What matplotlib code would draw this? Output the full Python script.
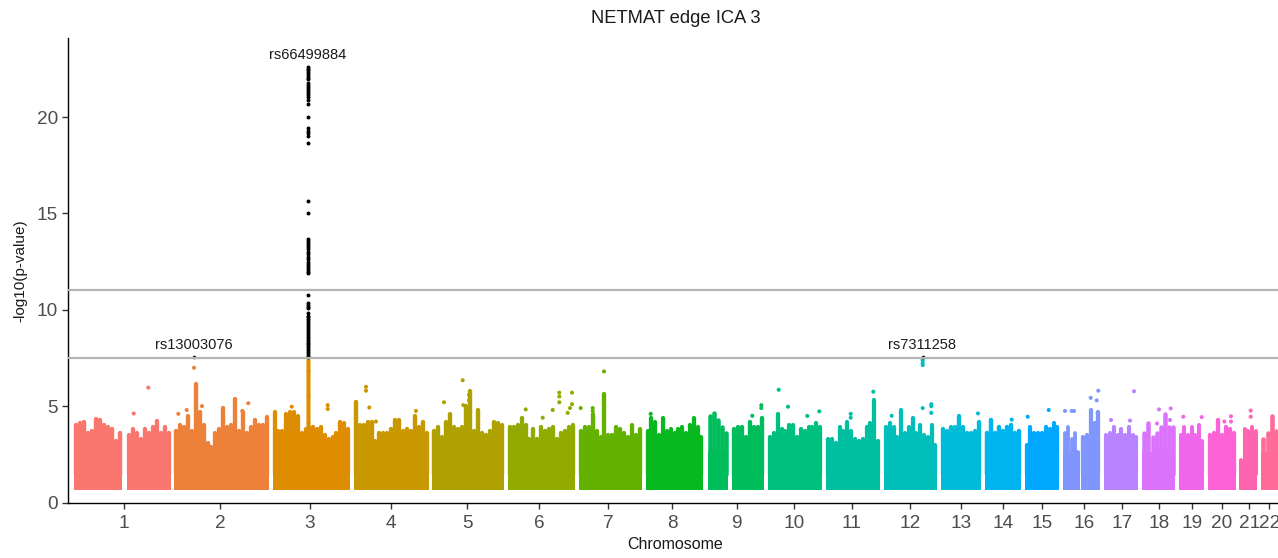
import numpy as np
import matplotlib
matplotlib.use("Agg")
import matplotlib.pyplot as plt

plt.rcParams['font.family'] = ['Liberation Sans', 'DejaVu Sans']

W, H = 1278, 558
AX_L, AX_R, AX_T, AX_B = 68, 1278, 38, 502.5
YMAX = 24.1

chrom_names = [str(i) for i in range(1, 23)]
chrom_ticks = [124, 220, 310, 391.3, 467.3, 539.3, 608, 672.3, 736.7, 794, 851.7, 910,
               961, 1002.7, 1042.3, 1084, 1121.7, 1159, 1191.7, 1222, 1249.3, 1269.3]
chrom_colors = ['#F8766D', '#EE8139', '#DE8C00', '#C99800', '#AFA100', '#90AA00', '#63B200',
                '#07B81E', '#00BD5C', '#00C080', '#00BFA0', '#00BFBA', '#00BCD8', '#00B4EF',
                '#00A9FF', '#7F96FF', '#B983FF', '#DB72FB', '#F066EA', '#FC61D5', '#FF64B0', '#FF6A98']

BASE = 0.66

seg_chrom = [1, 1, 2, 3, 4, 5, 6, 7, 8, 9, 9, 10, 11, 12, 13, 14, 15, 16, 16, 17, 18, 19, 20, 21, 22]
seg_start = [74, 127.3, 174, 272.7, 353.7, 432.3, 507.7, 579, 645.7, 707.7, 732.3, 768, 826, 884,
             941.3, 984.7, 1024.7, 1063, 1081, 1104.3, 1142.3, 1178.7, 1208.3, 1239.3, 1261.3]
seg_end = [122.3, 170.7, 268.7, 350, 429, 503.7, 575, 641.7, 703.3, 728.3, 764, 822, 880, 937.3,
           980.7, 1021.3, 1059.3, 1080, 1100.3, 1138.3, 1175, 1204.3, 1235.7, 1257.3, 1278]

chr1a = [4.0, 4.1, 4.2, 3.6, 3.7, 4.35, 4.3, 4.0, 3.9, 3.8, 3.2, 3.6]
chr1b = [3.5, 3.8, 3.6, 3.3, 3.8, 3.6, 3.9, 4.25, 3.6, 3.9, 3.6]
chr2 = [3.7, 4.0, 3.9, 4.5, 3.7, 6.15, 4.7, 4.0, 3.1, 2.9, 3.6, 3.8, 4.9, 3.9, 4.0, 5.35,
        3.7, 4.7, 3.6, 3.9, 4.3, 4.0, 4.0, 4.45]
chr3 = [4.7, 3.7, 3.7, 4.6, 4.7, 4.7, 4.5, 3.6, 3.8, 3.9, 3.9, 3.8, 3.9, 3.5, 3.3, 3.4, 3.6, 4.2, 4.1, 3.8]
chr4 = [5.2, 4.0, 4.0, 4.2, 4.2, 3.2, 3.6, 3.6, 3.6, 3.8, 4.3, 4.3, 3.7, 3.8, 3.7, 4.5, 3.9, 4.2, 3.6]
chr5 = [3.7, 3.9, 3.4, 4.2, 4.6, 3.9, 3.8, 3.9, 5.0, 5.8, 3.7, 4.8, 3.6, 3.5, 3.7, 4.2, 4.1, 4.0]
chr6 = [3.9, 3.9, 4.0, 4.4, 4.0, 3.3, 3.8, 3.3, 3.9, 3.7, 3.8, 3.9, 3.3, 3.6, 3.7, 3.9, 4.0]
chr7 = [3.7, 3.9, 3.9, 4.6, 3.7, 3.4, 5.65, 3.5, 3.5, 3.9, 3.8, 3.6, 3.4, 4.0, 3.5, 3.8]
chr8 = [3.7, 4.4, 4.2, 3.5, 4.4, 3.7, 3.8, 3.6, 3.8, 3.9, 3.6, 4.0, 4.4, 3.9, 3.4]
chr9a = [4.5, 4.65, 4.3, 3.9, 3.6]
chr9b = [3.8, 3.9, 3.9, 3.4, 4.2, 3.9, 3.9, 4.4]
chr10 = [3.4, 3.6, 4.6, 3.8, 3.7, 4.0, 4.0, 3.4, 3.8, 3.7, 3.9, 3.9, 4.1, 3.9]
chr11 = [3.3, 3.3, 3.1, 3.9, 3.7, 4.2, 3.7, 3.3, 3.2, 3.3, 3.9, 4.1, 5.3, 3.2]
chr12 = [3.9, 4.1, 3.9, 3.4, 4.8, 3.6, 3.9, 4.4, 3.6, 4.0, 3.5, 3.4, 4.0, 3.0]
chr13 = [3.8, 3.7, 3.9, 3.9, 4.5, 3.9, 3.6, 3.6, 3.7, 4.2]
chr14 = [3.6, 4.3, 3.6, 3.9, 3.7, 3.9, 4.0, 3.6, 3.7]
chr15 = [3.0, 3.9, 3.6, 3.6, 3.6, 3.9, 3.8, 4.1, 3.9]
chr16a = [3.6, 3.9, 3.3, 3.6, 2.6]
chr16b = [3.4, 3.5, 4.8, 4.1, 4.7]
chr17 = [3.5, 3.6, 3.9, 3.5, 3.8, 3.5, 3.9, 3.5, 3.4]
chr18 = [3.6, 4.1, 3.4, 3.6, 3.9, 4.6, 3.9, 3.9]
chr19 = [3.5, 3.9, 3.5, 3.9, 3.5, 4.0, 3.2]
chr20 = [3.5, 3.6, 4.3, 3.5, 3.9, 3.8, 3.6]
chr21 = [2.2, 3.8, 3.7, 3.9, 3.7]
chr22 = [3.3, 3.6, 4.5, 3.7]
seg_heights = [chr1a, chr1b, chr2, chr3, chr4, chr5, chr6, chr7, chr8, chr9a, chr9b, chr10, chr11,
               chr12, chr13, chr14, chr15, chr16a, chr16b, chr17, chr18, chr19, chr20, chr21, chr22]

lone_chrom = [1, 1, 2, 2, 2, 2, 2, 2, 2, 3, 3, 3, 4, 4, 4, 4, 4, 4, 4,
              5, 5, 5, 5, 5, 6, 6, 6, 6, 6, 6, 6, 6, 6, 6,
              7, 7, 7, 7, 8, 9, 9, 9, 10, 10, 10, 10, 11, 11, 11,
              12, 12, 12, 12, 12, 12, 12, 12, 13, 14, 15, 15, 16, 16, 16, 16, 16, 16, 16,
              17, 17, 17, 18, 18, 18, 18, 19, 19, 20, 20, 20, 21, 21]
lone_pos = [148.3, 133.7, 194, 178.3, 186.7, 248.3, 242.3, 223.3, 202, 291.7, 327.7, 327.7,
            366, 366, 369.3, 376, 416, 356, 356,
            462.7, 469, 469, 444, 463.3,
            525.7, 542.7, 552.7, 559.3, 559.3, 559.3, 572, 572, 570, 567.7,
            604, 580.7, 592.7, 592.7, 650.7, 752.3, 761.3, 761.3,
            778.7, 788, 807.3, 819.3, 850.7, 850.7, 873.3,
            891.7, 931.3, 931.3, 922.7, 922.7, 922.7, 922.7, 931.3,
            978, 1011.7, 1048.7, 1027.7, 1098.3, 1090.7, 1096.7, 1097.7, 1065, 1071.7, 1074,
            1134, 1111, 1130, 1159, 1170.7, 1170, 1157, 1183.3, 1201.7, 1224.3, 1231, 1231, 1250.7, 1250.7]
lone_val = [5.96, 4.62, 6.99, 4.6, 4.8, 5.15, 4.75, 4.3, 5.0, 4.97, 5.05, 4.85,
            6.0, 5.8, 4.93, 4.2, 4.75, 4.9, 4.6,
            6.34, 5.58, 5.3, 5.2, 5.05,
            4.83, 4.4, 4.8, 5.7, 5.5, 5.2, 5.7, 5.1, 4.9, 4.65,
            6.8, 4.9, 4.9, 4.75, 4.6, 4.5, 5.05, 4.9,
            5.85, 4.97, 4.49, 4.73, 4.6, 4.4, 5.75,
            4.5, 5.1, 5.0, 4.9, 7.39, 7.25, 7.13, 4.65,
            4.62, 4.3, 4.8, 4.45, 5.8, 5.43, 5.3, 4.65, 4.75, 4.75, 4.75,
            5.77, 4.28, 4.25, 4.83, 4.88, 4.28, 4.1, 4.45, 4.43, 4.2, 4.47, 4.2, 4.77, 4.45]

peak_x = 308
peak_orange = [3.9, 4.0, 4.1, 4.2, 4.3, 4.4, 4.5, 4.6, 4.7, 4.8, 4.9, 5.0, 5.1, 5.2, 5.3, 5.4, 5.5, 5.6,
               5.7, 5.8, 5.9, 6.0, 6.1, 6.2, 6.3, 6.4, 6.5, 6.6, 6.7, 6.8, 6.9, 7.0, 7.1, 7.2, 7.3, 7.4]
peak_black = [22.6, 22.5, 22.42, 22.35, 22.25, 22.15, 22.05, 21.95, 21.75, 21.65, 21.55, 21.45, 21.35,
              21.25, 21.15, 21.05, 20.9, 20.7, 20.02, 19.45, 19.3, 19.15, 19.0, 18.64, 15.66, 15.02,
              13.67, 13.55, 13.45, 13.35, 13.25, 13.15, 13.0, 12.9, 12.75, 12.65, 12.5, 12.4, 12.25,
              12.15, 12.05, 11.95, 11.89, 10.77, 10.37, 10.25, 10.15, 10.08, 9.82, 9.7, 9.6, 9.5, 9.4,
              9.3, 9.2, 9.1, 9.0, 8.9, 8.8, 8.7, 8.6, 8.5, 8.4, 8.3, 8.2, 8.1, 8.0, 7.9, 7.8, 7.7, 7.6, 7.55]
hit_x = [194, 922.7]
hit_val = [7.55, 7.55]

lab_text = ['rs66499884', 'rs13003076', 'rs7311258']
lab_x = [307.5, 194, 922]
lab_y = [22.85, 7.8, 7.8]

thresholds = [7.5, 11]
y_ticks = [0, 5, 10, 15, 20]

fig = plt.figure(figsize=(W / 100, H / 100), dpi=100)
ax = fig.add_axes([AX_L / W, 1 - AX_B / H, (AX_R - AX_L) / W, (AX_B - AX_T) / H])
ax.set_xlim(AX_L, AX_R)
ax.set_ylim(0, YMAX)

for c, s, e, hs in zip(seg_chrom, seg_start, seg_end, seg_heights):
    col = chrom_colors[c - 1]
    hs = np.asarray(hs, float)
    step = (e - s) / len(hs)
    xs = s + step * (np.arange(len(hs)) + 0.5)
    ax.bar(xs, np.minimum(hs, 2.6) - BASE, bottom=BASE, width=step * 1.03, color=col, linewidth=0, zorder=2)
    vl = ax.vlines(xs, BASE + 0.8, hs, color=col, linewidth=step * 0.72 + 0.3, zorder=2)
    vl.set_capstyle('round')

ax.scatter(lone_pos, lone_val, s=8.5, linewidths=0, zorder=3,
           c=[chrom_colors[c - 1] for c in lone_chrom])
ax.scatter([peak_x] * len(peak_orange), peak_orange, s=9, linewidths=0, zorder=3, c=chrom_colors[2])
ax.scatter([peak_x] * len(peak_black), peak_black, s=8, linewidths=0, zorder=4, c='black')
ax.scatter(hit_x, hit_val, s=7, linewidths=0, zorder=4, c='black')

for t in thresholds:
    ax.axhline(t, color='#B3B3B3', linewidth=1.6, zorder=5)

for t, x, y in zip(lab_text, lab_x, lab_y):
    ax.text(x, y, t, ha='center', va='bottom', fontsize=10.5, color='#1A1A1A', zorder=6)

for sp in ('top', 'right'):
    ax.spines[sp].set_visible(False)
for sp in ('left', 'bottom'):
    ax.spines[sp].set_linewidth(1.0)
    ax.spines[sp].set_color('black')

ax.set_xticks(chrom_ticks)
ax.set_xticklabels(chrom_names)
ax.set_yticks(y_ticks)
ax.tick_params(axis='y', length=4.2, width=1.0, color='#333333', labelcolor='#4D4D4D',
               labelsize=13.7, pad=3)
ax.tick_params(axis='x', length=4.2, width=1.0, color='#333333', labelcolor='#4D4D4D',
               labelsize=13.7, pad=5)
fig.text(675 / W, 1 - 544.5 / H, 'Chromosome', ha='center', va='center', fontsize=11.5, color='#1A1A1A')
fig.text(20 / W, 1 - 271 / H, '-log10(p-value)', ha='center', va='center', rotation=90, fontsize=11, color='#1A1A1A')
fig.text(676 / W, 1 - 18.5 / H, 'NETMAT edge ICA 3', ha='center', va='center', fontsize=13.2, color='#1A1A1A')

fig.savefig('out.png', dpi=100)
